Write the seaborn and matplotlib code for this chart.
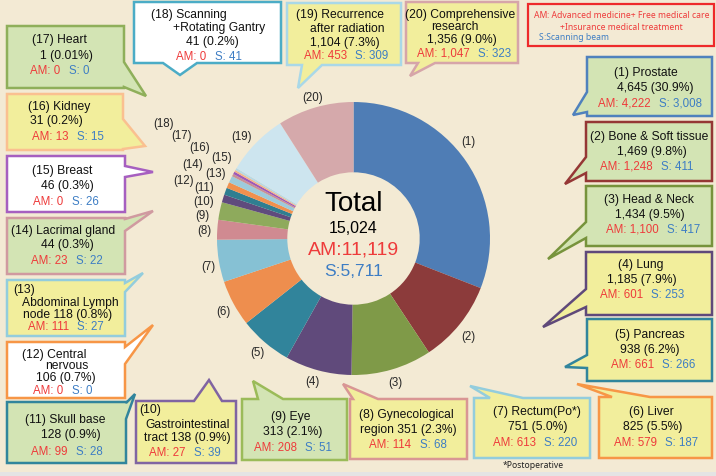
import matplotlib
matplotlib.use("Agg")
import matplotlib.pyplot as plt
import seaborn as sns
from matplotlib.patches import Polygon, Rectangle
from matplotlib.offsetbox import TextArea, HPacker, AnnotationBbox

# ---------------- data ----------------
categories = ["Prostate", "Bone & Soft tissue", "Head & Neck", "Lung", "Pancreas",
              "Liver", "Rectum(Po*)", "Gynecological region", "Eye",
              "Gastrointestinal tract", "Skull base", "Central nervous",
              "Abdominal Lymph node", "Lacrimal gland", "Breast", "Kidney", "Heart",
              "Scanning +Rotating Gantry", "Recurrence after radiation",
              "Comprehensive research"]
counts = [4645, 1469, 1434, 1185, 938, 825, 751, 351, 313, 138, 128, 106, 118,
          44, 46, 31, 1, 41, 1104, 1356]
percents = ["30.9%", "9.8%", "9.5%", "7.9%", "6.2%", "5.5%", "5.0%", "2.3%", "2.1%",
            "0.9%", "0.9%", "0.7%", "0.8%", "0.3%", "0.3%", "0.2%", "0.01%", "0.2%",
            "7.3%", "9.0%"]
am_counts = [4222, 1248, 1100, 601, 661, 579, 613, 114, 208, 27, 99, 0, 111, 23, 0,
             13, 0, 0, 453, 1047]
s_counts = [3008, 411, 417, 253, 266, 187, 220, 68, 51, 39, 28, 0, 27, 22, 26, 15,
            0, 41, 309, 323]
total_label = "15,024"
total_am = "11,119"
total_s = "5,711"

# how each name is broken over lines in its call-out (joined: last part shares count line)
name_parts = [["Prostate"], ["Bone & Soft tissue"], ["Head & Neck"], ["Lung"],
              ["Pancreas"], ["Liver"], ["Rectum(Po*)"], ["Gynecological", "region"],
              ["Eye"], ["", "Gastrointestinal", "tract"], ["Skull base"],
              ["Central", "nervous"], ["", "Abdominal Lymph", "node"],
              ["Lacrimal gland"], ["Breast"], ["Kidney"], ["Heart"],
              ["Scanning", "+Rotating Gantry"], ["Recurrence", "after radiation"],
              ["Comprehensive", "research"]]
joined_tail = {8, 10, 13}

# ---------------- style ----------------
BG = "#F3EAD4"
RED = "#EE3B3B"
BLUE = "#3D7DC4"
GREEN_F = "#D3E4B4"
YELLOW_F = "#F2EE9C"
WHITE_F = "#FFFFFF"
slice_colors = ["#4F7DB5", "#8C3B3B", "#7F9A48", "#604A7B", "#31849B", "#EE8E4E",
                "#86C1D4", "#D08A91", "#8EAA5C", "#5F4B7D", "#2F7E91", "#F0904E",
                "#9DCBDB", "#C99095", "#9E58B8", "#F5B48A", "#9BBB59", "#B8D8E4",
                "#CDE5EF", "#D5A9AB"]

sns.set_style("white")
plt.rcParams["font.family"] = ["Liberation Sans", "DejaVu Sans"]
FS = 8.7
FSA = 8.3

W, H = 716, 477
fig = plt.figure(figsize=(W / 100, H / 100), dpi=100, facecolor=BG)

# donut
cx, cy, R = 353.5, 239.5, 136.5
axp = fig.add_axes([(cx - R) / W, (H - cy - R) / H, 2 * R / W, 2 * R / H])
axp.set_facecolor(BG)
pal = sns.color_palette(slice_colors)
axp.pie(counts, colors=pal, startangle=90, counterclock=False, radius=1,
        wedgeprops=dict(width=0.515, linewidth=0))
axp.set_xlim(-1, 1)
axp.set_ylim(-1, 1)
axp.set_aspect("equal")
axp.axis("off")

# overlay in pixel coordinates
ax = fig.add_axes([0, 0, 1, 1], zorder=5)
ax.set_xlim(0, W)
ax.set_ylim(H, 0)
ax.axis("off")
ax.patch.set_alpha(0)

ax.add_patch(Rectangle((0, 473), W, 4, facecolor="#E4E4E4", edgecolor="none"))

# center text
ax.text(cx, 204, "Total", ha="center", va="center", fontsize=20, color="black")
ax.text(cx, 229, total_label, ha="center", va="center", fontsize=11.5, color="black")
ax.text(cx, 250, "AM:" + total_am, ha="center", va="center", fontsize=14, color=RED)
ax.text(cx, 272, "S:" + total_s, ha="center", va="center", fontsize=12.5, color=BLUE)

# slice number labels
label_pos = [(468, 142), (468, 337), (395, 383), (312, 382), (257, 353), (223, 312),
             (208, 267), (204, 231), (202, 216), (204, 202), (204, 188), (183, 181),
             (215, 174), (193, 165), (222, 158), (200, 148), (182, 136), (163, 124),
             (241, 137), (313, 98)]
for i, (lx, ly) in enumerate(label_pos):
    ax.text(lx, ly, f"({i + 1})", ha="center", va="center", fontsize=8.3)

# call-out layout: rect, fill, edge, pointer(side,b1,b2,tx,ty), line positions, AM/S position
layout = [
    ((587, 58, 712, 117), GREEN_F, "#4F81BD", ("left", 93, 113, 573, 116), [(646, 73), (655, 88)], (650, 103)),
    ((586, 123, 712, 182), GREEN_F, "#953735", ("left", 158, 174, 565, 185), [(649, 137), (652, 152)], (647, 167)),
    ((586, 187, 712, 247), GREEN_F, "#77933C", ("left", 223, 239, 548, 260), [(649, 200), (650, 215)], (653, 230)),
    ((586, 253, 712, 316), YELLOW_F, "#5F497A", ("left", 290, 308, 543, 328), [(641, 265), (642, 280)], (642, 295)),
    ((587, 320, 712, 382), YELLOW_F, "#31859C", ("left", 356, 369, 565, 368), [(650, 335), (650, 350)], (653, 365)),
    ((599, 398, 712, 459), YELLOW_F, "#F79646", ("top", 612, 650, 577, 385), [(651, 412), (653, 427)], (656, 443)),
    ((474, 399, 590, 459), YELLOW_F, "#93CDDD", ("top", 490, 523, 470, 387), [(537, 412), (538, 427)], (535, 443)),
    ((350, 400, 467, 460), YELLOW_F, "#D99694", ("top", 353, 378, 343, 385), [(406, 415), (408, 430)], (408, 445)),
    ((242, 400, 347, 461), GREEN_F, "#9BBB59", ("top", 258, 283, 253, 382), [(291, 417), (293, 432)], (293, 448)),
    ((136, 402, 236, 464), YELLOW_F, "#8064A2", ("top", 194, 222, 209, 381), [(139, 410, "left"), (188, 425), (187, 438)], (185, 453)),
    ((7, 403, 126, 464), GREEN_F, "#31859C", ("right", 404, 420, 135, 395), [(65, 420), (71, 435)], (67, 452)),
    ((7, 343, 125, 399), WHITE_F, "#F79646", ("right", 348, 365, 153, 326), [(54, 355), (67, 366), (66, 378)], (63, 391)),
    ((7, 281, 125, 337), YELLOW_F, "#93CDDD", ("right", 284, 293, 143, 274), [(13, 290, "left"), (70, 303), (68, 315)], (66, 327)),
    ((7, 219, 125, 275), GREEN_F, "#D09AA0", ("right", 220, 232, 153, 212), [(63, 231), (67, 245)], (67, 261)),
    ((7, 157, 125, 213), WHITE_F, "#A65FC0", ("right", 167, 178, 153, 173), [(62, 171), (67, 186)], (66, 202)),
    ((7, 95, 123, 151), YELLOW_F, "#FAC090", ("right", 120, 150, 145, 147), [(59, 107), (56, 121)], (68, 137)),
    ((7, 27, 124, 89), GREEN_F, "#8FAF5A", ("right", 63, 88, 146, 97), [(59, 40), (66, 56)], (60, 71)),
    ((134, 3, 281, 64), WHITE_F, "#4BACC6", ("bottom", 163, 197, 180, 76), [(189, 15), (219, 28), (212, 42)], (209, 57)),
    ((287, 4, 401, 66), YELLOW_F, "#A9D8E8", ("bottom", 302, 322, 298, 89), [(340, 15), (347, 29), (345, 43)], (346, 56)),
    ((406, 3, 518, 64), YELLOW_F, "#D6A5A9", ("bottom", 418, 435, 410, 77), [(460, 15), (455, 27), (462, 40)], (464, 54)),
]


def callout_poly(x0, y0, x1, y1, side, b1, b2, tx, ty):
    pts = [(x0, y0)]
    if side == "top":
        pts += [(b1, y0), (tx, ty), (b2, y0)]
    pts.append((x1, y0))
    if side == "right":
        pts += [(x1, b1), (tx, ty), (x1, b2)]
    pts.append((x1, y1))
    if side == "bottom":
        pts += [(b2, y1), (tx, ty), (b1, y1)]
    pts.append((x0, y1))
    if side == "left":
        pts += [(x0, b2), (tx, ty), (x0, b1)]
    return pts


def box_lines(i):
    n = i + 1
    parts = name_parts[i]
    cnt = f"{counts[i]:,} ({percents[i]})"
    first = f"({n}) {parts[0]}".strip()
    if len(parts) == 1:
        return [first, cnt]
    if n in joined_tail:
        return [first] + parts[1:-1] + [f"{parts[-1]} {cnt}"]
    return [first] + parts[1:] + [cnt]


for i, (rect, fc, ec, ptr, lpos, apos) in enumerate(layout):
    poly = Polygon(callout_poly(*rect, *ptr), closed=True, facecolor=fc,
                   edgecolor=ec, linewidth=1.8, joinstyle="miter")
    ax.add_patch(poly)
    for txt, p in zip(box_lines(i), lpos):
        ha = p[2] if len(p) > 2 else "center"
        ax.text(p[0], p[1], txt, ha=ha, va="center", fontsize=FS, color="#111111")
    ta = TextArea(f"AM: {am_counts[i]:,}", textprops=dict(color=RED, fontsize=FSA))
    tb = TextArea(f"S: {s_counts[i]:,}", textprops=dict(color=BLUE, fontsize=FSA))
    pk = HPacker(children=[ta, tb], sep=6, pad=0, align="baseline")
    ax.add_artist(AnnotationBbox(pk, apos, xycoords="data", frameon=False,
                                 box_alignment=(0.5, 0.5), pad=0))

# legend box
ax.add_patch(Rectangle((528, 5), 186, 42, facecolor="none", edgecolor="#EE2A2A", linewidth=1.6))
LF = dict(fontsize=6.2, family=["Noto Sans", "DejaVu Sans"])
l1 = HPacker(children=[TextArea("AM", textprops=dict(color=RED, fontweight="bold", **LF)),
                       TextArea(": Advanced medicine+ Free medical care", textprops=dict(color=RED, **LF))],
             sep=0, pad=0, align="baseline")
ax.add_artist(AnnotationBbox(l1, (622, 15), frameon=False, box_alignment=(0.5, 0.5), pad=0))
ax.text(621, 27, "+Insurance medical treatment", ha="center", va="center", color=RED, **LF)
l3 = HPacker(children=[TextArea("S", textprops=dict(color=BLUE, fontweight="bold", **LF)),
                       TextArea(":Scanning beam", textprops=dict(color=BLUE, **LF))],
             sep=0, pad=0, align="baseline")
ax.add_artist(AnnotationBbox(l3, (539, 38), frameon=False, box_alignment=(0.0, 0.5), pad=0))

ax.text(533, 466, "*Postoperative", ha="center", va="center", color="#222222", **LF)

fig.savefig("out.png", dpi=100, facecolor=BG)
